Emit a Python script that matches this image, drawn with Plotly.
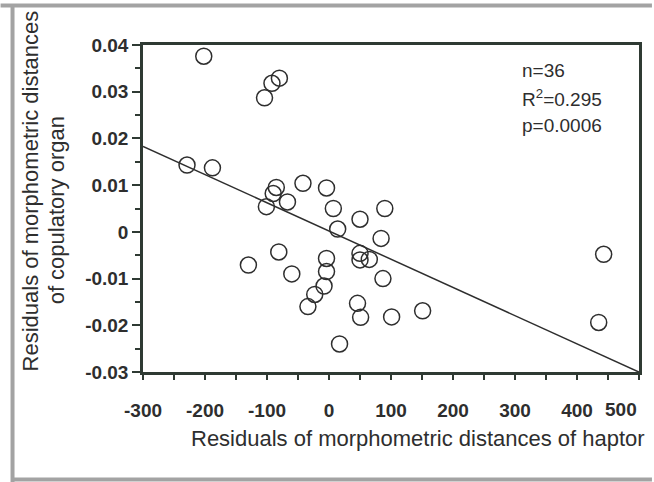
import plotly.graph_objects as go

# ---- data ----
haptor_resid = [-202, -104, -92, -80, -229, -188, -101, -90, -85, -67, -42, -4, 7, 50, 90,
                14, 84, -81, -130, -4, 50, 50, 65, -4, -60, 87, -8, -23, -34, 46, 51, 101,
                17, 151, 443, 435]
copul_resid = [0.0376, 0.0287, 0.0318, 0.0329, 0.0143, 0.0137, 0.0054, 0.0082, 0.0095, 0.0064,
               0.0104, 0.0094, 0.0050, 0.0027, 0.0050, 0.0006, -0.0014, -0.0043, -0.0071,
               -0.0057, -0.0046, -0.0060, -0.0059, -0.0085, -0.0090, -0.0100, -0.0116, -0.0134,
               -0.0160, -0.0153, -0.0183, -0.0182, -0.0240, -0.0169, -0.0048, -0.0194]
fit_x = [-300, 500]
fit_intercept = 0.00018
fit_slope = -0.0000604
x_ticks = [-300, -200, -100, 0, 100, 200, 300, 400, 500]
x_ticklabels = ["-300", "-200", "-100", "0", "100", "200", "300", "400", "500"]
y_ticks = [0.04, 0.03, 0.02, 0.01, 0.0, -0.01, -0.02, -0.03]
y_ticklabels = ["0.04", "0.03", "0.02", "0.01", "0", "-0.01", "-0.02", "-0.03"]
stats_lines = ["n=36", "R<sup>2</sup>=0.295", "p=0.0006"]
x_title = "Residuals of morphometric distances of haptor"
y_title_lines = ["Residuals of morphometric distances", "of copulatory organ"]

# ---- layout geometry (pixels) ----
W, H = 654, 482
L, R, T, B = 143, 641, 45, 372
PW, PH = R - L, B - T


def px(xp):
    return (xp - L) / PW


def py(yp):
    return (B - yp) / PH


FONT = "Liberation Sans, Arial, sans-serif"
INK = "#2e2e2e"
AXIS = "#2f3a33"

fit_y = [fit_intercept + fit_slope * x for x in fit_x]

fig = go.Figure()
fig.add_trace(go.Scatter(x=fit_x, y=fit_y, mode="lines",
                         line=dict(color=INK, width=1.5), showlegend=False,
                         hoverinfo="skip", cliponaxis=False))
fig.add_trace(go.Scatter(x=haptor_resid, y=copul_resid, mode="markers",
                         marker=dict(symbol="circle-open", size=16,
                                     line=dict(color=INK, width=1.5), color=INK),
                         showlegend=False, cliponaxis=False))

tickfont = dict(family=FONT, size=19, color=INK, weight="bold")

annotations = []
for i, s in enumerate(stats_lines):
    annotations.append(dict(text=s, x=px(522), y=py(70 + 27.5 * i), xref="paper", yref="paper",
                            xanchor="left", yanchor="middle", showarrow=False,
                            font=dict(family=FONT, size=19, color=INK)))
# last x tick label sits flush with the right frame, as in the reference
annotations.append(dict(text=x_ticklabels[-1], x=x_ticks[-1], y=py(409), xref="x", yref="paper",
                        xanchor="right", yanchor="middle", showarrow=False, font=tickfont))
annotations.append(dict(text=x_title, x=px(419), y=py(438), xref="paper", yref="paper",
                        xanchor="center", yanchor="middle", showarrow=False,
                        font=dict(family=FONT, size=22, color=INK)))
annotations.append(dict(text=y_title_lines[0], x=px(31), y=py(191), xref="paper", yref="paper",
                        xanchor="center", yanchor="middle", showarrow=False, textangle=-90,
                        font=dict(family=FONT, size=22, color=INK)))
annotations.append(dict(text=y_title_lines[1], x=px(56), y=py(210), xref="paper", yref="paper",
                        xanchor="center", yanchor="middle", showarrow=False, textangle=-90,
                        font=dict(family=FONT, size=22, color=INK)))

shapes = [
    dict(type="line", xref="paper", yref="paper", x0=px(0), x1=px(W), y0=py(5.5), y1=py(5.5),
         line=dict(color="#a3a3a3", width=4), layer="above"),
    dict(type="line", xref="paper", yref="paper", x0=px(12), x1=px(12), y0=py(5), y1=py(482),
         line=dict(color="#a3a3a3", width=4), layer="above"),
    dict(type="line", xref="paper", yref="paper", x0=px(12), x1=px(W), y0=py(479.5), y1=py(479.5),
         line=dict(color="#a3a3a3", width=4), layer="above"),
]

fig.update_layout(
    width=W, height=H,
    margin=dict(l=L, r=W - R, t=T, b=H - B, pad=0),
    paper_bgcolor="white", plot_bgcolor="white",
    annotations=annotations, shapes=shapes,
    xaxis=dict(range=[-300, 500], tickvals=x_ticks[:-1], ticktext=x_ticklabels[:-1],
               showgrid=False, zeroline=False, showline=True, mirror=True,
               linecolor=AXIS, linewidth=2.5, ticks="outside", ticklen=5, tickwidth=1.5,
               tickcolor=AXIS, tickfont=tickfont, ticklabelstandoff=14,
               minor=dict(tickvals=list(range(-300, 501, 50)), ticks="outside", ticklen=5,
                          tickwidth=1.5, tickcolor=AXIS)),
    yaxis=dict(range=[-0.03, 0.04], tickvals=y_ticks, ticktext=y_ticklabels,
               showgrid=False, zeroline=False, showline=True, mirror=True,
               linecolor=AXIS, linewidth=2.5, ticks="outside", ticklen=8, tickwidth=1.5,
               tickcolor=AXIS, tickfont=tickfont,
               minor=dict(dtick=0.005, ticks="outside", ticklen=5, tickwidth=1.5, tickcolor=AXIS)),
)

fig.write_html("out.html")
